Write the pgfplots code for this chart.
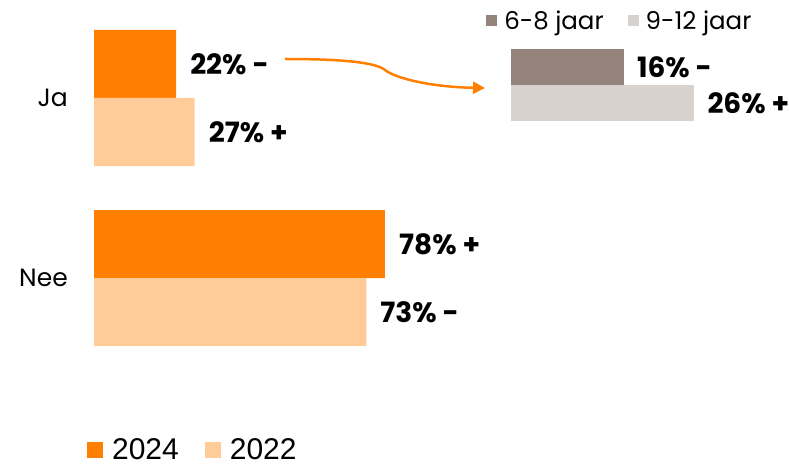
\documentclass[border=0pt]{standalone}
\usepackage{fontspec}
\setmainfont{Poppins}
\newfontfamily\legfont{Liberation Sans}
\usepackage{pgfplots}
\pgfplotsset{compat=1.18}
\usetikzlibrary{arrows.meta}
\definecolor{or24}{RGB}{255,128,0}
\definecolor{pe22}{RGB}{255,204,153}
\definecolor{taupe}{RGB}{148,131,122}
\definecolor{lgray}{RGB}{215,210,206}

\begin{document}
\begin{tikzpicture}[x=1pt,y=1pt]
\useasboundingbox (0,0) rectangle (789,466);
% main chart
\begin{axis}[
  at={(94pt,98pt)}, anchor=south west,
  scale only axis, width=373pt, height=360pt,
  xbar, xmin=0, xmax=100, ymin=-0.5, ymax=1.5,
  bar width=68pt,
  axis line style={draw=none}, major tick length=0pt,
  xtick=\empty, ytick={0,1}, yticklabels={Nee,Ja},
  yticklabel style={font=\fontsize{25}{29}\selectfont, inner sep=0pt, xshift=-26pt},
  point meta=explicit symbolic,
  nodes near coords,
  nodes near coords style={font=\fontsize{28}{32}\selectfont\bfseries, anchor=west, inner sep=0pt, xshift=14pt},
  legend columns=2,
  legend style={at={(-0.019,-0.2275)}, anchor=west, draw=none, fill=none, inner sep=0pt,
    font=\legfont\fontsize{30}{34}\selectfont, cells={anchor=west},
    /tikz/every odd column/.append style={column sep=7pt},
    /tikz/every even column/.append style={column sep=24pt}},
  legend image code/.code={\fill[#1] (0pt,-8pt) rectangle (16pt,8pt);},
]
\addplot[fill=or24, draw=none, bar shift=34pt] coordinates {(22,1) [22\% -] (78,0) [78\% +]};
\addplot[fill=pe22, draw=none, bar shift=-34pt] coordinates {(27,1) [27\% +] (73,0) [73\% -]};
\legend{2024,2022}
\end{axis}
% inset: age groups
\begin{axis}[
  at={(511pt,345pt)}, anchor=south west,
  scale only axis, width=211.5pt, height=72pt,
  xbar, xmin=0, xmax=30, ymin=-1, ymax=1,
  bar width=36pt,
  axis line style={draw=none}, major tick length=0pt,
  xtick=\empty, ytick=\empty,
  point meta=explicit symbolic,
  nodes near coords,
  nodes near coords style={font=\fontsize{28}{32}\selectfont\bfseries, anchor=west, inner sep=0pt, xshift=13pt},
  legend columns=2,
  legend style={at={(-0.118,1.39)}, anchor=west, draw=none, fill=none, inner sep=0pt,
    font=\fontsize{24.5}{28}\selectfont, cells={anchor=west},
    /tikz/every odd column/.append style={column sep=5pt},
    /tikz/every even column/.append style={column sep=22pt}},
  legend image code/.code={\fill[#1] (0pt,-5.5pt) rectangle (11pt,5.5pt);},
]
\addplot[fill=taupe, draw=none, bar shift=18pt] coordinates {(16,0) [16\% -]};
\addplot[fill=lgray, draw=none, bar shift=-18pt] coordinates {(26,0) [26\% +]};
\legend{6-8 jaar,9-12 jaar}
\end{axis}
% connector arrow
\draw[or24, line width=2.5pt, -{Triangle[length=12pt,width=12pt]}]
  (285,407) .. controls (340,407) and (375,404) .. (385,396)
  .. controls (395,388) and (430,379) .. (485,378);
\end{tikzpicture}
\end{document}
